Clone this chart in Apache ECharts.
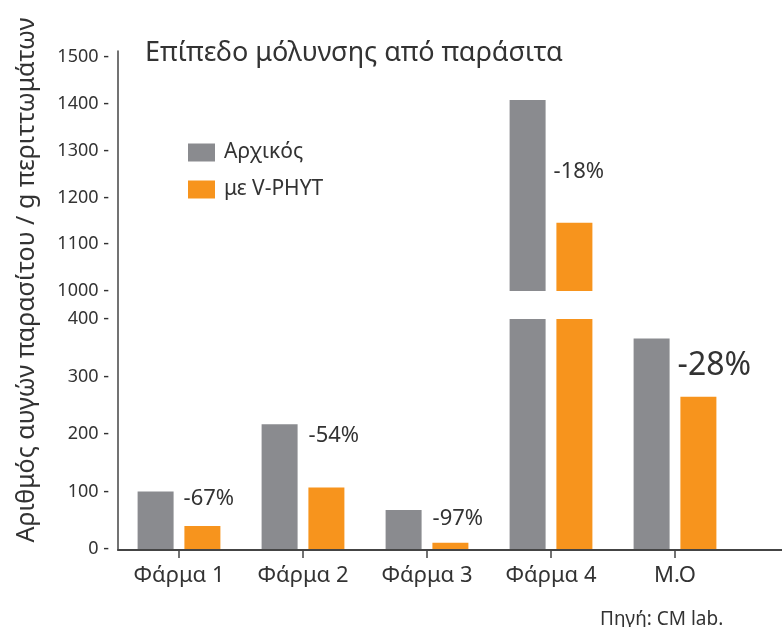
<!DOCTYPE html>
<html>
<head>
<meta charset="utf-8">
<script src="https://cdn.jsdelivr.net/npm/echarts@6/dist/echarts.min.js"></script>
<style>
html,body{margin:0;padding:0;background:#fff;}
#chart{width:782px;height:627px;}
</style>
</head>
<body>
<div id="chart"></div>
<script>
// ---- data ----
var categories = ['Φάρμα 1', 'Φάρμα 2', 'Φάρμα 3', 'Φάρμα 4', 'M.O'];
var initialValues = [100, 217, 68, 1408, 366];   // Αρχικός
var vphytValues   = [40, 107, 11, 1146, 265];    // με V-PHYT
var changeLabels  = ['-67%', '-54%', '-97%', '-18%', '-28%'];
var lowerTicks = [0, 400, 100];    // min, max, interval (lower segment)
var upperTicks = [1000, 1500, 100]; // min, max, interval (upper segment)
var seriesNames = ['Αρχικός', 'με V-PHYT'];

// ---- styling ----
var FONT = '"Noto Sans", "Open Sans", sans-serif';
var GRAY = '#8a8b8f';
var ORANGE = '#f7941d';
var TEXT = '#333333';
var breakAt = lowerTicks[1];
// per-label offsets / sizes (style, not data)
var labelStyle = [
  {offset: [10, -4], size: 22},
  {offset: [11, 1], size: 22},
  {offset: [11, -2], size: 22},
  {offset: [8, 61], size: 22},
  {offset: [8, 11], size: 32}
];

function labeledData(values, inUpper) {
  return values.map(function (v, i) {
    var visibleHere = inUpper ? v > breakAt : true;
    var topHere = inUpper ? v > breakAt : v <= breakAt;
    if (!visibleHere) return '-';
    var item = {value: v};
    if (topHere) {
      item.label = {
        show: true,
        formatter: changeLabels[i],
        position: ['100%', 0],
        align: 'left',
        verticalAlign: 'top',
        offset: labelStyle[i].offset,
        fontSize: labelStyle[i].size,
        color: TEXT,
        fontFamily: FONT
      };
    }
    return item;
  });
}
function plainData(values, inUpper) {
  return values.map(function (v) {
    if (inUpper) return v > breakAt ? v : '-';
    return v;
  });
}

var yLabel = {
  formatter: function (v) { return String(v) + ' -'; },
  fontSize: 18,
  color: TEXT,
  fontFamily: FONT,
  margin: 8,
  padding: [0, 0, 8, 0]
};

var chart = echarts.init(document.getElementById('chart'), null, {renderer: 'canvas'});
chart.setOption({
  animation: false,
  backgroundColor: '#ffffff',
  title: [
    {
      text: 'Επίπεδο μόλυνσης από παράσιτα',
      left: 140, top: 35,
      textStyle: {fontSize: 27, fontWeight: 'normal', color: TEXT, fontFamily: FONT}
    },
    {
      text: 'Πηγή: CM lab.',
      left: 595, top: 605,
      textStyle: {fontSize: 19, fontWeight: 'normal', color: TEXT, fontFamily: FONT}
    }
  ],
  legend: {
    data: seriesNames,
    orient: 'vertical',
    left: 183, top: 137,
    itemWidth: 27, itemHeight: 18, itemGap: 16,
    icon: 'rect',
    textStyle: {fontSize: 21, color: TEXT, fontFamily: FONT, padding: [0, 0, 0, 4]}
  },
  graphic: [{
    type: 'text',
    x: 27, y: 280,
    rotation: Math.PI / 2,
    style: {
      text: 'Αριθμός αυγών παρασίτου / g περιττωμάτων',
      font: '25px ' + FONT,
      fill: TEXT,
      textAlign: 'center',
      textVerticalAlign: 'middle'
    }
  }],
  grid: [
    {left: 118, right: 0, top: 51, bottom: 77},
    {left: 117, right: 45, top: 319, bottom: 78},
    {left: 117, right: 45, top: 57, bottom: 336}
  ],
  xAxis: [
    {gridIndex: 0, type: 'value', min: 0, max: 1,
      axisLine: {show: true, lineStyle: {color: '#444', width: 2}},
      axisTick: {show: false}, axisLabel: {show: false}, splitLine: {show: false}},
    {gridIndex: 1, type: 'category', data: categories,
      axisLine: {show: false},
      axisTick: {show: true, alignWithLabel: true, length: 9, lineStyle: {color: '#444', width: 1.5}},
      axisLabel: {fontSize: 22, color: TEXT, fontFamily: FONT, margin: 16},
      splitLine: {show: false}},
    {gridIndex: 2, type: 'category', data: categories, show: false}
  ],
  yAxis: [
    {gridIndex: 0, type: 'value', min: 0, max: 1,
      axisLine: {show: true, lineStyle: {color: '#444', width: 1.5}},
      axisTick: {show: false}, axisLabel: {show: false}, splitLine: {show: false}},
    {gridIndex: 1, type: 'value', min: lowerTicks[0], max: lowerTicks[1], interval: lowerTicks[2],
      axisLine: {show: false}, axisTick: {show: false}, splitLine: {show: false},
      axisLabel: yLabel},
    {gridIndex: 2, type: 'value', min: upperTicks[0], max: upperTicks[1], interval: upperTicks[2],
      axisLine: {show: false}, axisTick: {show: false}, splitLine: {show: false},
      axisLabel: yLabel}
  ],
  series: [
    {name: seriesNames[0], type: 'bar', xAxisIndex: 1, yAxisIndex: 1,
      barWidth: 36, barGap: '30%', clip: true,
      itemStyle: {color: GRAY}, data: labeledData(initialValues, false)},
    {name: seriesNames[1], type: 'bar', xAxisIndex: 1, yAxisIndex: 1,
      barWidth: 36, barGap: '30%', clip: true,
      itemStyle: {color: ORANGE}, data: plainData(vphytValues, false)},
    {name: seriesNames[0], type: 'bar', xAxisIndex: 2, yAxisIndex: 2,
      barWidth: 36, barGap: '30%', clip: true,
      itemStyle: {color: GRAY}, data: labeledData(initialValues, true)},
    {name: seriesNames[1], type: 'bar', xAxisIndex: 2, yAxisIndex: 2,
      barWidth: 36, barGap: '30%', clip: true,
      itemStyle: {color: ORANGE}, data: plainData(vphytValues, true)}
  ]
});
</script>
</body>
</html>
